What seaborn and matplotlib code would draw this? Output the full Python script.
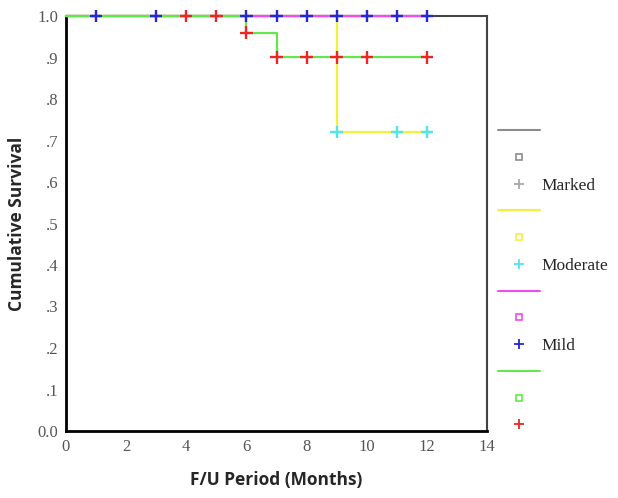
import seaborn as sns
import matplotlib.pyplot as plt
import pandas as pd
from matplotlib.lines import Line2D

sns.set_style("white")

# step curves (time, cumulative survival) per group
marked_t = [0, 12]
marked_s = [1.0, 1.0]
moderate_t = [0, 9, 12]
moderate_s = [1.0, 0.72, 0.72]
mild_t = [0, 12]
mild_s = [1.0, 1.0]
other_t = [0, 6, 7, 12]
other_s = [1.0, 0.96, 0.90, 0.90]

# censored observations
moderate_cens_t = [9, 11, 12]
moderate_cens_s = [0.72, 0.72, 0.72]
mild_cens_t = [1, 3, 6, 7, 8, 9, 10, 11, 12]
mild_cens_s = [1.0, 1.0, 1.0, 1.0, 1.0, 1.0, 1.0, 1.0, 1.0]
other_cens_t = [4, 5, 6, 7, 8, 9, 10, 12]
other_cens_s = [1.0, 1.0, 0.96, 0.90, 0.90, 0.90, 0.90, 0.90]

groups = ["Marked", "Moderate", "Mild", ""]
line_cols = ["#8c8c8c", "#f2f23a", "#f04cf0", "#62e84a"]
cens_cols = ["#a8a8a8", "#4fe6ea", "#2626d8", "#ec2626"]

curves = pd.concat([
    pd.DataFrame({"t": marked_t, "s": marked_s, "g": "Marked"}),
    pd.DataFrame({"t": moderate_t, "s": moderate_s, "g": "Moderate"}),
    pd.DataFrame({"t": mild_t, "s": mild_s, "g": "Mild"}),
    pd.DataFrame({"t": other_t, "s": other_s, "g": "Other"}),
])
cens = pd.concat([
    pd.DataFrame({"t": moderate_cens_t, "s": moderate_cens_s, "g": "Moderate"}),
    pd.DataFrame({"t": mild_cens_t, "s": mild_cens_s, "g": "Mild"}),
    pd.DataFrame({"t": other_cens_t, "s": other_cens_s, "g": "Other"}),
])
pal = dict(zip(["Marked", "Moderate", "Mild", "Other"], line_cols))
cpal = dict(zip(["Marked", "Moderate", "Mild", "Other"], cens_cols))

fig = plt.figure(figsize=(6.18, 4.98), dpi=100)
ax = fig.add_axes([66/618, 1-431/498, (487-66)/618, (431-16)/498])

sns.lineplot(data=curves, x="t", y="s", hue="g", palette=pal, drawstyle="steps-post",
             estimator=None, sort=False, lw=1.6, legend=False, ax=ax, zorder=3, clip_on=False)
sns.scatterplot(data=cens, x="t", y="s", hue="g", palette=cpal, marker="+", s=80,
                linewidth=1.7, legend=False, ax=ax, zorder=4, clip_on=False)

ax.set_xlim(0, 14)
ax.set_ylim(0, 1.0)
ax.set_xticks(range(0, 15, 2))
ax.set_yticks([i/10 for i in range(11)])
ax.set_yticklabels(["0.0"] + ["." + str(i) for i in range(1, 10)] + ["1.0"])
for lab in ax.get_xticklabels() + ax.get_yticklabels():
    lab.set_fontfamily("Liberation Serif")
    lab.set_fontsize(12)
    lab.set_color("#555555")
ax.tick_params(direction="out", length=2.5, width=2, color="black", pad=3)
ax.set_xlabel("F/U Period (Months)", fontsize=12.5, fontweight="bold", family="Open Sans", labelpad=12)
ax.set_ylabel("Cumulative Survival", fontsize=12.5, fontweight="bold", family="Open Sans", labelpad=8)
for side in ["left", "bottom"]:
    ax.spines[side].set_color("black")
    ax.spines[side].set_linewidth(2)
for side in ["top", "right"]:
    ax.spines[side].set_color("#444444")
    ax.spines[side].set_linewidth(1.5)

handles, labels = [], []
for g, lc, cc in zip(groups, line_cols, cens_cols):
    handles.append(Line2D([], [], color=lc, lw=1.5))
    labels.append(" ")
    handles.append(Line2D([], [], color=lc, marker="s", ls="none", mfc="none", ms=4, mew=1.2))
    labels.append(" ")
    handles.append(Line2D([], [], color=cc, marker="+", ls="none", ms=7, mew=1.3))
    labels.append(g if g else " ")
fig.legend(handles, labels, loc="upper left", bbox_to_anchor=(498/618, 1-124/498),
           frameon=False, handlelength=2.4, handletextpad=0.1, labelspacing=0.61,
           prop={"family": "Liberation Serif", "size": 12.5}, borderaxespad=0, borderpad=0)

fig.savefig("out.png", dpi=100)
